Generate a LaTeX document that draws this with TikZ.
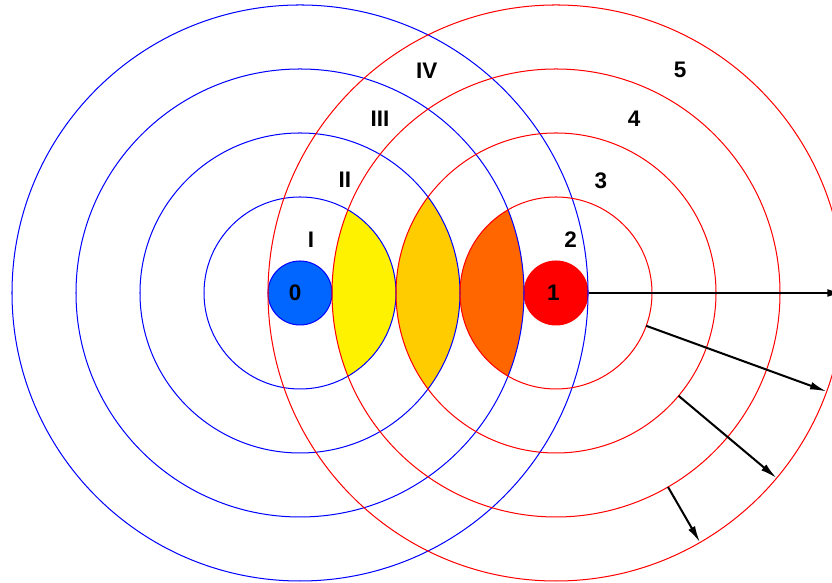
\documentclass[tikz,border=0pt]{standalone}
\usepackage{fontspec}
\setmainfont{Liberation Sans}
\usetikzlibrary{arrows.meta}
\definecolor{srcblue}{RGB}{0,102,255}
\definecolor{lensgold}{RGB}{255,204,0}
\definecolor{lensorange}{RGB}{255,102,0}
\tikzset{
  wave0/.style={blue,line width=0.45pt},
  wave1/.style={red,line width=0.45pt},
  src/.style={circle,minimum size=1cm,inner sep=0pt,line width=0.45pt,font=\fontsize{10}{12}\selectfont\bfseries},
  lbl/.style={font=\fontsize{10}{12}\selectfont\bfseries},
  ray/.style={line width=0.9pt,-{Latex[length=2.6mm,width=1.2mm]}}
}
\begin{document}
\begin{tikzpicture}
\useasboundingbox (-4.6875,-4.516) rectangle (8.3125,4.578);

% overlap zones
\begin{scope}
\clip (0,0) circle (1.5);
\fill[yellow] (4,0) circle (3.5);
\end{scope}
\begin{scope}
\clip (0,0) circle (2.5);
\fill[lensgold] (4,0) circle (2.5);
\end{scope}
\begin{scope}
\clip (0,0) circle (3.5);
\fill[lensorange] (4,0) circle (1.5);
\end{scope}

\node[src,fill=srcblue,draw=blue] (src0) at (0,0) {\hspace*{-0.15cm}0};
\node[src,fill=red,draw=red] (src1) at (4,0) {\hspace*{-0.08cm}1};

\draw[wave0] (0,0) circle (1.5);
\draw[wave0] (0,0) circle (2.5);
\draw[wave0] (0,0) circle (3.5);
\draw[wave0] (0,0) circle (4.5);
\draw[wave1] (4,0) circle (1.5);
\draw[wave1] (4,0) circle (2.5);
\draw[wave1] (4,0) circle (3.5);
\draw[wave1] (4,0) circle (4.5);

\node[lbl] (zI) at (0.17,0.83) {I};
\node[lbl] (zII) at (0.70,1.77) {II};
\node[lbl] (zIII) at (1.25,2.73) {III};
\node[lbl] (zIV) at (1.98,3.48) {IV};
\node[lbl] (z2) at (4.23,0.83) {2};
\node[lbl] (z3) at (4.70,1.75) {3};
\node[lbl] (z4) at (5.22,2.73) {4};
\node[lbl] (z5) at (5.94,3.48) {5};

\coordinate (r0) at (8.5,0);
\coordinate (r1a) at ([shift={(4,0)}]-20:1.5);
\coordinate (r1b) at ([shift={(4,0)}]-20:4.5);
\coordinate (r2a) at ([shift={(4,0)}]-40:2.5);
\coordinate (r2b) at ([shift={(4,0)}]-40:4.5);
\coordinate (r3a) at ([shift={(4,0)}]-60:3.5);
\coordinate (r3b) at ([shift={(4,0)}]-60:4.5);
\draw[ray] (src1) -- (r0);
\draw[ray] (r1a) -- (r1b);
\draw[ray] (r2a) -- (r2b);
\draw[ray] (r3a) -- (r3b);
\end{tikzpicture}
\end{document}
